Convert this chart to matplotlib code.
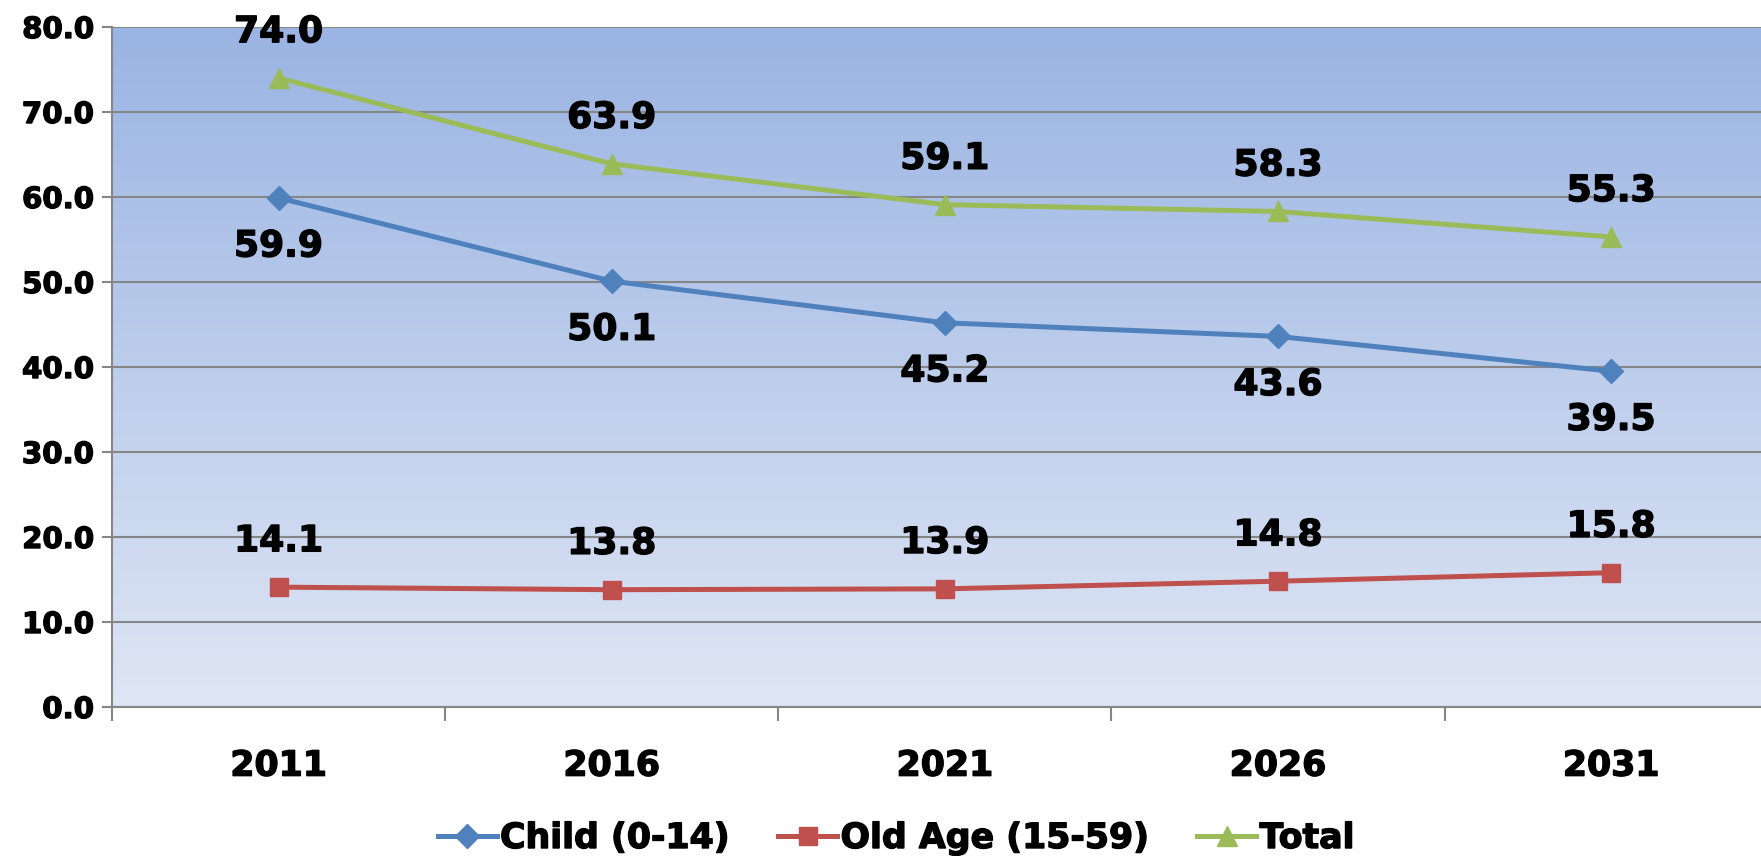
import numpy as np
import matplotlib.pyplot as plt
import matplotlib.patheffects as pe
from matplotlib.colors import LinearSegmentedColormap

plt.rcParams['font.family'] = ['DejaVu Sans']
plt.rcParams['font.weight'] = 'bold'

# data
years = ['2011', '2016', '2021', '2026', '2031']
child = [59.9, 50.1, 45.2, 43.6, 39.5]
old_age = [14.1, 13.8, 13.9, 14.8, 15.8]
total = [74.0, 63.9, 59.1, 58.3, 55.3]
yticks = [0, 10, 20, 30, 40, 50, 60, 70, 80]

heavy = [pe.withStroke(linewidth=1.0, foreground='black')]

fig = plt.figure(figsize=(17.61, 8.56), dpi=100)
ax = fig.add_axes([112 / 1761, 1 - 707 / 856, 1 - 112 / 1761, 680 / 856])

# gradient background
cmap = LinearSegmentedColormap.from_list('bg', ['#dfe6f4', '#9ab4e3'])
grad = np.linspace(0, 1, 256).reshape(-1, 1)
ax.imshow(grad, aspect='auto', cmap=cmap, origin='lower',
          extent=[0, 1, 0, 1], transform=ax.transAxes, zorder=0)

x = np.arange(len(years))
ax.plot(x, child, color='#4f81bd', lw=3.6, marker='D', ms=12,
        label='Child (0-14)', zorder=3)
ax.plot(x, old_age, color='#c0504d', lw=3.6, marker='s', ms=13,
        label='Old Age (15-59)', zorder=3)
ax.plot(x, total, color='#9bbb59', lw=3.6, marker='^', ms=15,
        label='Total', zorder=3)

for i in x:
    ax.annotate(f'{total[i]:.1f}', (i, total[i]), xytext=(0, 33),
                textcoords='offset points', ha='center', va='center',
                fontsize=26, fontweight='bold', path_effects=heavy)
    ax.annotate(f'{child[i]:.1f}', (i, child[i]), xytext=(0, -35),
                textcoords='offset points', ha='center', va='center',
                fontsize=26, fontweight='bold', path_effects=heavy)
    ax.annotate(f'{old_age[i]:.1f}', (i, old_age[i]), xytext=(0, 33),
                textcoords='offset points', ha='center', va='center',
                fontsize=26, fontweight='bold', path_effects=heavy)

ax.set_xlim(-0.5, 4.45)
ax.set_ylim(0, 80)
ax.set_yticks(yticks)
ax.set_yticklabels([f'{v:.1f}' for v in yticks], fontsize=21, fontweight='bold',
                   path_effects=heavy)
ax.set_xticks(x)
ax.set_xticklabels(years, fontsize=25, fontweight='bold', path_effects=heavy)
ax.set_xticks(np.arange(-0.5, 4.5, 1), minor=True)
ax.tick_params(axis='x', which='major', length=0, pad=30)
ax.tick_params(axis='x', which='minor', length=10, width=1.5, color='#868686')
ax.tick_params(axis='y', length=7, width=1.5, color='#868686', pad=6)

ax.grid(axis='y', color='#868686', lw=1.5, zorder=1)
ax.set_axisbelow(True)
for s in ['top', 'right']:
    ax.spines[s].set_visible(False)
for s in ['left', 'bottom']:
    ax.spines[s].set_color('#868686')
    ax.spines[s].set_linewidth(1.5)

leg = fig.legend(loc='center', bbox_to_anchor=(896 / 1761, 1 - 838 / 856), ncol=3,
                 frameon=False, handlelength=1.7, handletextpad=0.1,
                 columnspacing=1.4, prop={'weight': 'bold', 'size': 25})
for t in leg.get_texts():
    t.set_path_effects(heavy)

fig.savefig('out.png', dpi=100)
